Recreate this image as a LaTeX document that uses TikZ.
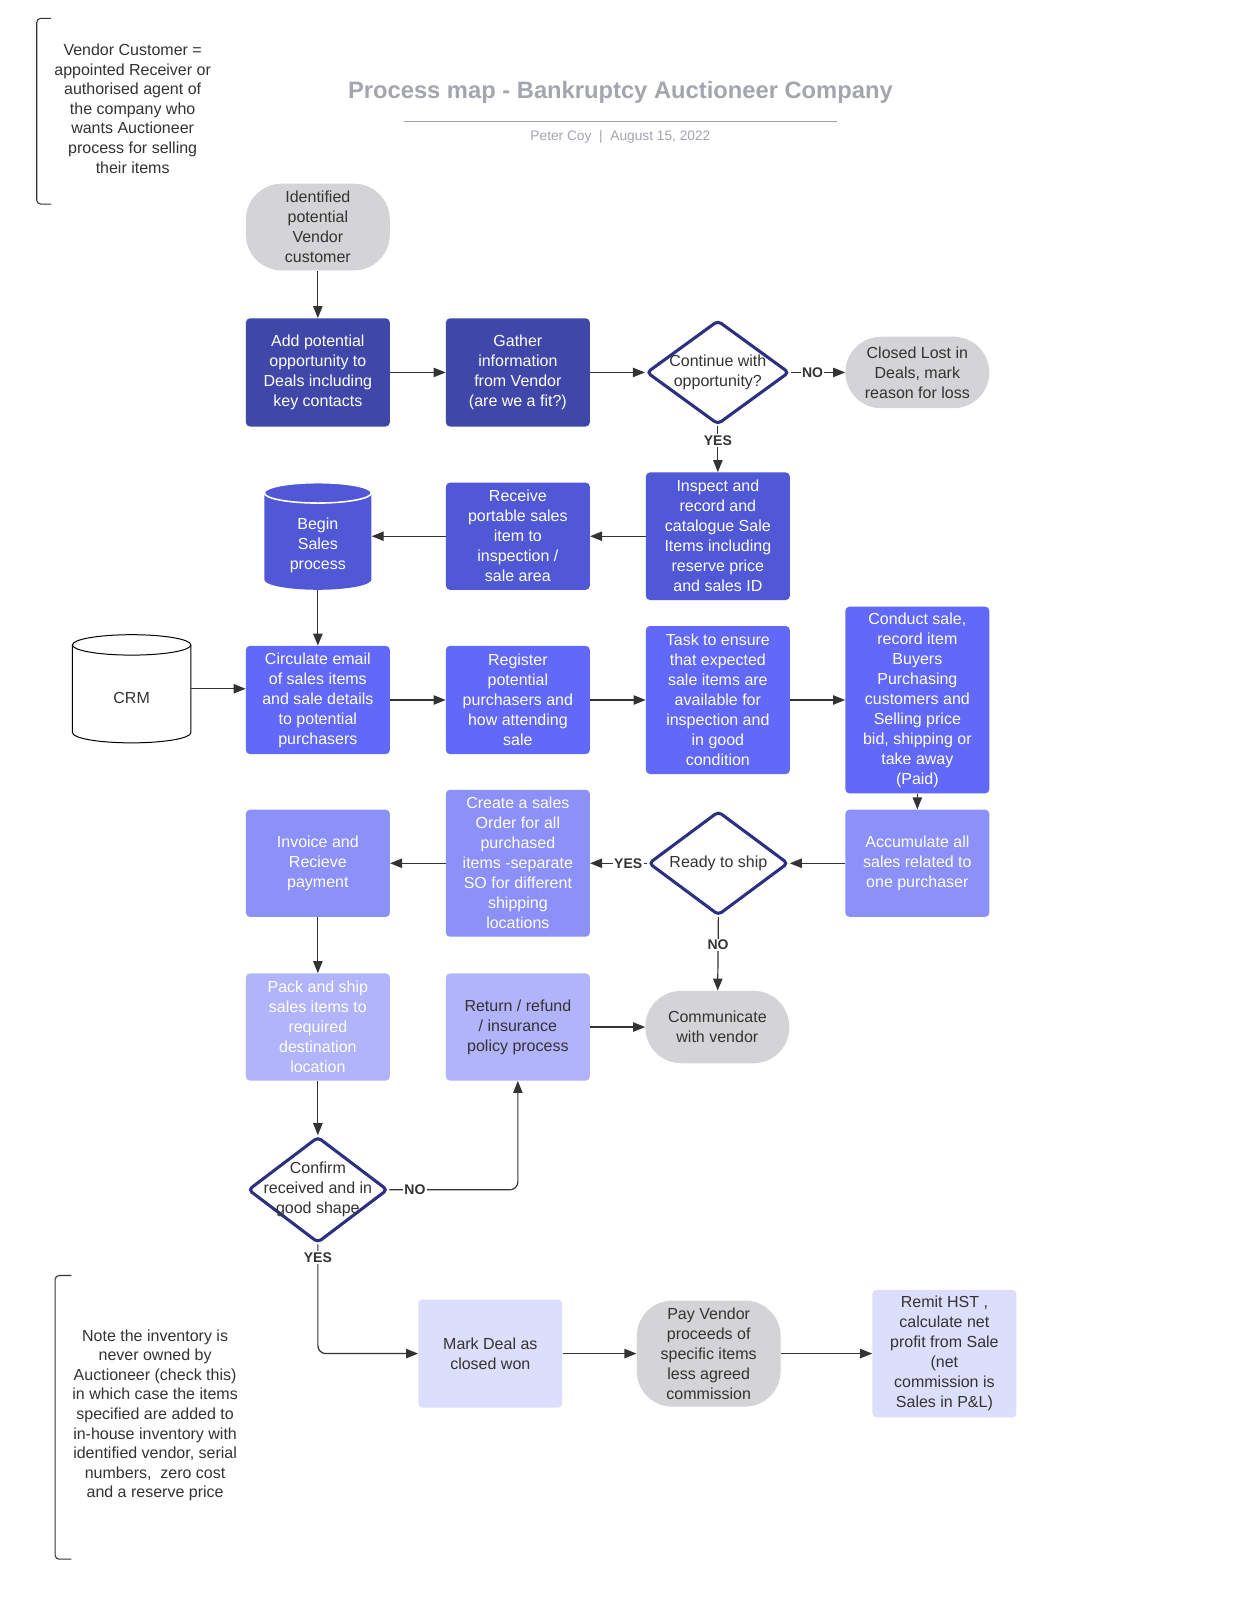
\documentclass[tikz,border=0pt]{standalone}
\usepackage{fontspec}
\setmainfont{Liberation Sans}
\usetikzlibrary{arrows.meta,shapes.geometric}
\definecolor{cA}{HTML}{3F48A8}
\definecolor{cB}{HTML}{5058D6}
\definecolor{cC}{HTML}{6268F7}
\definecolor{cD}{HTML}{8C90F9}
\definecolor{cE}{HTML}{B2B4FB}
\definecolor{cF}{HTML}{DDDEFC}
\definecolor{gr}{HTML}{D4D4D6}
\definecolor{dn}{HTML}{2B3080}
\definecolor{ln}{HTML}{333333}
\definecolor{tt}{HTML}{A3A6AE}
\definecolor{rl}{HTML}{9C9EB8}
\tikzset{
  base/.style={align=center, font=\fontsize{12}{15}\selectfont, inner sep=0pt},
  box/.style={base, rectangle, rounded corners=3pt, minimum width=107.9pt, text=white},
  pill/.style={base, rectangle, rounded corners=26.8pt, fill=gr, text=ln, minimum width=107.9pt},
  dia/.style={diamond, draw=dn, line width=2.3pt, fill=white, inner sep=0pt, rounded corners=3pt},
  dtxt/.style={base, text=ln},
  arr/.style={draw=ln, line width=0.9pt, -{Triangle[length=9pt,width=7pt]}},
  lab/.style={font=\bfseries\fontsize{10.5}{12}\selectfont, text=ln, fill=white, inner sep=1pt},
  note/.style={align=center, font=\fontsize{12}{14.7}\selectfont, text=ln, inner sep=0pt},
  brk/.style={draw=ln, line width=0.8pt, rounded corners=3pt},
}
\begin{document}
\begin{tikzpicture}[x=0.7653pt,y=-0.7653pt]
\useasboundingbox (0,0) rectangle (1211.3,1568);
\fill[white] (0,0) rectangle (1211.3,1568);

% title
\node[text=tt, font=\bfseries\fontsize{17.8}{20}\selectfont, inner sep=0pt] (title) at (608,90.5) {Process map - Bankruptcy Auctioneer Company};
\draw[rl, line width=1.2pt] (396,119) -- (820,119);
\node[text=tt, font=\fontsize{10.3}{12}\selectfont, inner sep=0pt] (sub) at (608,134.5) {Peter Coy\ \ |\ \ August 15, 2022};

% notes
\draw[brk] (50,18) -- (36,18) -- (36,200) -- (50,200);
\node[note] (note1) at (130,106.5) {Vendor Customer =\\appointed Receiver or\\authorised agent of\\the company who\\wants Auctioneer\\process for selling\\their items};
\draw[brk] (70,1250) -- (54,1250) -- (54,1528) -- (70,1528);
\node[note] (note2) at (152,1387) {Note the inventory is\\never owned by\\Auctioneer (check this)\\in which case the items\\specified are added to\\in-house inventory with\\identified vendor, serial\\numbers,\ \ zero cost\\and a reserve price};

% row 1
\node[pill, minimum height=65pt] (start) at (311.5,222.5) {Identified\\potential\\Vendor\\customer};
% row 2
\node[box, fill=cA, minimum height=81.1pt] (add) at (311.5,365) {Add potential\\opportunity to\\Deals including\\key contacts};
\node[box, fill=cA, minimum height=81.1pt] (gather) at (507.5,365) {Gather\\information\\from Vendor\\(are we a fit?)};
\node[dia, minimum width=107.1pt, minimum height=78.1pt] (d1) at (703.5,365) {};
\node[dtxt] (d1t) at (703.5,365) {Continue with\\opportunity?};
\node[pill, minimum height=53.6pt] (lost) at (899,365) {Closed Lost in\\Deals, mark\\reason for loss};
% row 3
\node[box, fill=cB, minimum height=95.7pt] (inspect) at (703.5,525.5) {Inspect and\\record and\\catalogue Sale\\Items including\\reserve price\\and sales ID};
\node[box, fill=cB, minimum height=80.4pt] (receive) at (507.5,525.5) {Receive\\portable sales\\item to\\inspection /\\sale area};
\node[inner sep=0pt, minimum width=80.4pt, minimum height=80.4pt] (begin) at (311.5,525.5) {};
\fill[cB] (259,483) -- (259,568) arc (180:360:40.18pt and 7.65pt) -- (364,483) arc (0:180:40.18pt and 7.65pt) -- cycle;
\draw[white, line width=1.2pt] (311.5,483) ellipse [x radius=40.18pt, y radius=7.65pt];
\node[base, text=white] (begint) at (311.5,534) {Begin\\Sales\\process};
% row 4
\node[inner sep=0pt, minimum width=88.8pt, minimum height=81.1pt] (crm) at (129,675) {};
\draw[black, line width=0.75pt, fill=white] (71,632) -- (71,718) arc (180:360:44.39pt and 7.65pt) -- (187,632) arc (0:180:44.39pt and 7.65pt) -- cycle;
\draw[black, line width=0.75pt] (71,632) arc (180:360:44.39pt and 7.65pt);
\node[base, text=ln] (crmt) at (129,684) {CRM};
\node[box, fill=cC, minimum height=81.1pt] (circulate) at (311.5,686) {Circulate email\\of sales items\\and sale details\\to potential\\purchasers};
\node[box, fill=cC, minimum height=81.1pt] (register) at (507.5,686) {Register\\potential\\purchasers and\\how attending\\sale};
\node[box, fill=cC, minimum height=111pt] (task) at (703.5,686) {Task to ensure\\that expected\\sale items are\\available for\\inspection and\\in good\\condition};
\node[box, fill=cC, minimum height=140pt] (conduct) at (899,686) {Conduct sale,\\record item\\Buyers\\Purchasing\\customers and\\Selling price\\bid, shipping or\\take away\\(Paid)};
% row 5
\node[box, fill=cD, minimum height=80.4pt] (accumulate) at (899,846) {Accumulate all\\sales related to\\one purchaser};
\node[dia, minimum width=104.8pt, minimum height=78.1pt] (d2) at (704,846) {};
\node[dtxt] (d2t) at (704,846) {Ready to ship};
\node[box, fill=cD, minimum height=110.2pt] (create) at (507.5,846) {Create a sales\\Order for all\\purchased\\items -separate\\SO for different\\shipping\\locations};
\node[box, fill=cD, minimum height=80.4pt] (invoice) at (311.5,846) {Invoice and\\Recieve\\payment};
% row 6
\node[box, fill=cE, minimum height=80.4pt] (pack) at (311.5,1006.5) {Pack and ship\\sales items to\\required\\destination\\location};
\node[box, fill=cE, text=ln, minimum height=80.4pt] (return) at (507.5,1006.5) {Return / refund\\/ insurance\\policy process};
\node[pill, minimum height=54.3pt] (communicate) at (703,1006.5) {Communicate\\with vendor};
% decision 3
\node[dia, minimum width=104.8pt, minimum height=79.6pt] (d3) at (311.5,1166) {};
\node[dtxt] (d3t) at (311.5,1166) {Confirm\\received and in\\good shape};
% row 7
\node[box, fill=cF, text=ln, minimum height=81.1pt] (mark) at (480.5,1326.5) {Mark Deal as\\closed won};
\node[pill, minimum height=79.6pt] (pay) at (694.5,1326.5) {Pay Vendor\\proceeds of\\specific items\\less agreed\\commission};
\node[box, fill=cF, text=ln, minimum height=95.7pt] (remit) at (925.5,1326.5) {Remit HST ,\\calculate net\\profit from Sale\\(net\\commission is\\Sales in P\&L)};

% connectors
\draw[arr] (start) -- (add);
\draw[arr] (add) -- (gather);
\draw[arr] (gather) -- (d1.west);
\draw[arr] (d1.east) -- node[lab, pos=0.4] {NO} (lost);
\draw[arr] (d1.south) -- node[lab, pos=0.31] {YES} (inspect);
\draw[arr] (inspect) -- (receive);
\draw[arr] (receive) -- (begin);
\draw[arr] (begin) -- (circulate);
\draw[arr] (crm.east) -- (crm.east -| circulate.west);
\draw[arr] (circulate) -- (register);
\draw[arr] (register) -- (task);
\draw[arr] (task) -- (conduct);
\draw[arr] (conduct) -- (accumulate);
\draw[arr] (accumulate) -- (d2.east);
\draw[arr] (d2.west) -- node[lab, pos=0.33] {YES} (create);
\draw[arr] (create) -- (invoice);
\draw[arr] (invoice) -- (pack);
\draw[arr] (d2.south) -- node[lab, pos=0.38] {NO} (communicate);
\draw[arr] (return) -- (communicate);
\draw[arr] (pack) -- (d3.north);
\draw[arr, rounded corners=6pt] (d3.east) -| node[lab, pos=0.1] {NO} (return.south);
\draw[arr, rounded corners=6pt] (d3.south) |- node[lab, pos=0.06] {YES} (mark.west);
\draw[arr] (mark) -- (pay);
\draw[arr] (pay) -- (remit);
\end{tikzpicture}
\end{document}
